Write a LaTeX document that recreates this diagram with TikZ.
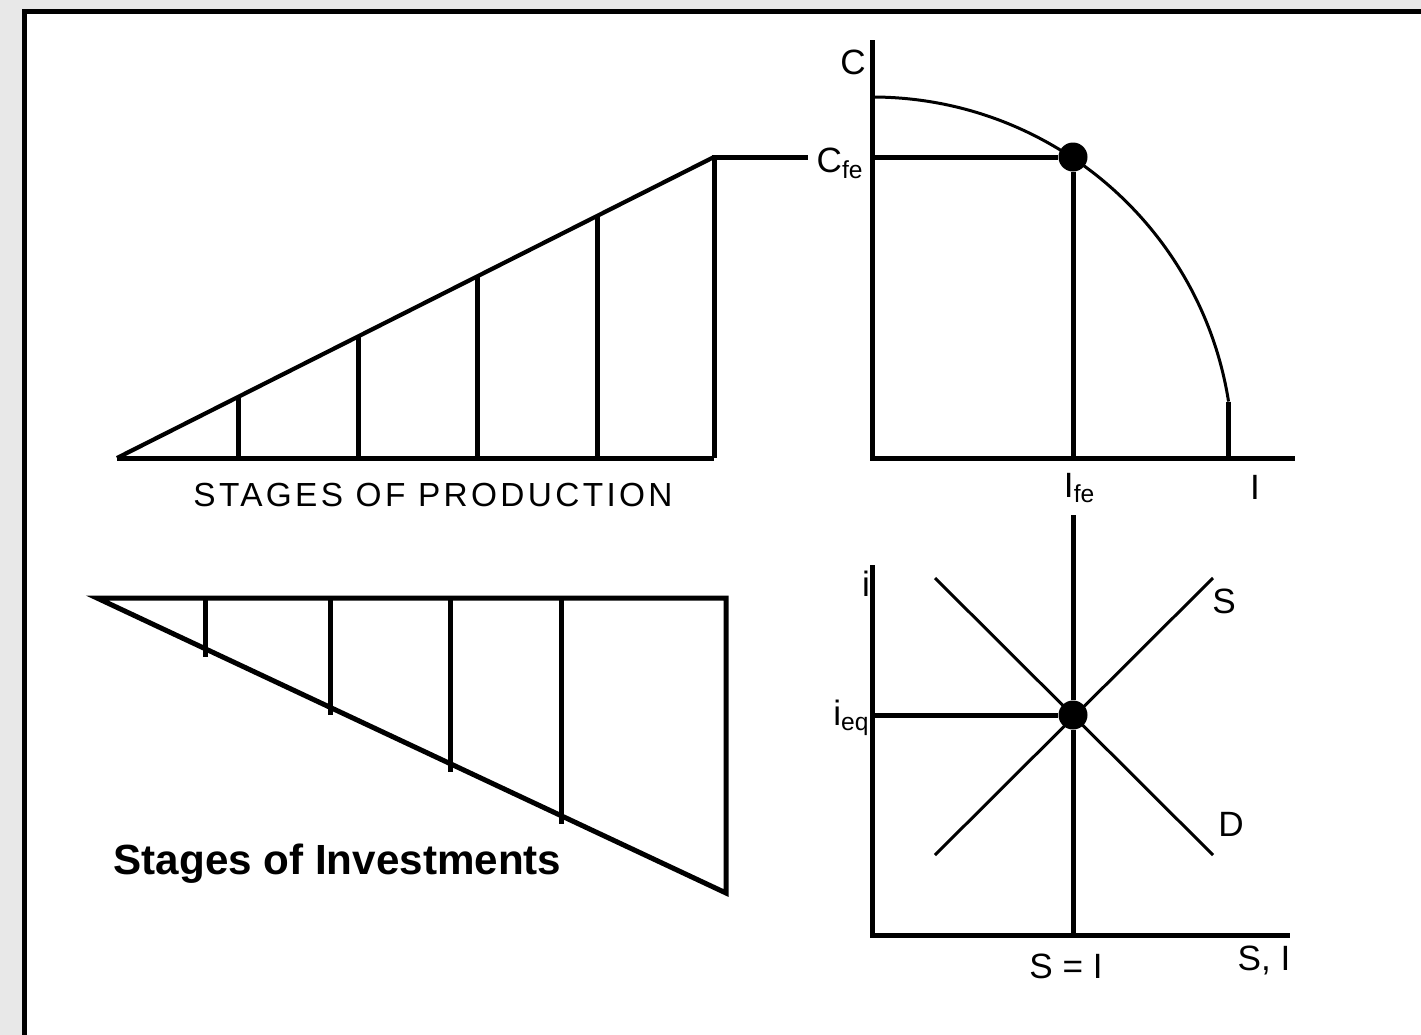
\documentclass[tikz,border=0pt]{standalone}
\usepackage{fontspec}
\setmainfont{Liberation Sans}
\newfontfamily\spacedfont[LetterSpace=10]{Liberation Sans}
\usetikzlibrary{calc}

\begin{document}
\begin{tikzpicture}[x=0.1mm,y=-0.1mm,
    axis/.style={line width=0.5mm},
    slope/.style={line width=0.42mm},
    curve/.style={line width=0.3mm},
    lbl/.style={font=\fontsize{10}{12}\selectfont,inner sep=0pt},
    dot/.style={circle,fill=black,inner sep=0pt,minimum size=2.9mm},
  ]
  % frame
  \fill[gray!18] (0,0) rectangle (1421,1035);
  \fill[black] (22,9) rectangle (1421,1035);
  \fill[white] (27,14) rectangle (1421,1035);

  % stages of production
  \coordinate (p0) at (117,458);
  \coordinate (p5) at (714,458);
  \coordinate (ptop) at (714,157);
  \coordinate (pend) at (808,157);
  \draw[axis] (p0) -- (p5);
  \draw[slope] (p0) -- (ptop);
  \foreach \x in {238,358,477,597}
    \draw[axis] (\x,458) -- (\x,{458-(\x-117)/597*301});
  \draw[axis] (p5) -- (ptop) -- (pend);
  \node[lbl,font=\spacedfont\fontsize{9.5}{11}\selectfont] (prod) at (433,495) {STAGES OF PRODUCTION};

  % production possibilities
  \coordinate (o1) at (872,458);
  \coordinate (cmax) at (872,97);
  \draw[axis] (872,40) -- (o1) -- (1295,458);
  \node[lbl] (caxis) at (853,62) {C};
  \node[lbl] (iaxis) at (1255,487) {I};
  \draw[curve] (cmax) arc[start angle=-90,end angle=-9,radius=361] coordinate (cend);
  \draw[axis] (cend) -- (cend |- o1);
  \node[dot] (fe) at (1073,157) {};
  \node[lbl,anchor=west] (cfe) at (816,163) {C\textsubscript{fe}};
  \node[lbl] (ife) at (1080,488) {I\textsubscript{fe}};
  \draw[axis] (fe -| o1) -- (fe);
  \draw[axis] (fe) -- (fe |- o1);

  % loanable funds
  \coordinate (o2) at (872,935);
  \draw[axis] (872,565) -- (o2) -- (1290,935);
  \node[dot] (eq) at (1073,715) {};
  \coordinate (eqtop) at (1073,515);
  \draw[axis] (eqtop) -- (eq) -- (eq |- o2);
  \draw[axis] (eq -| o2) -- (eq);
  \coordinate (d0) at (935,578);
  \coordinate (d1) at (1213,855);
  \coordinate (s0) at (935,855);
  \coordinate (s1) at (1213,578);
  \draw[curve] (d0) -- (d1);
  \draw[curve] (s0) -- (s1);
  \node[lbl] (slbl) at (1224,601) {S};
  \node[lbl] (dlbl) at (1231,824) {D};
  \node[lbl] (iint) at (866,584) {i};
  \node[lbl,anchor=east] (ieq) at (871,718) {i\textsubscript{eq}};
  \node[lbl] (sei) at (1066,966) {S = I};
  \node[lbl] (sci) at (1264,960) {S, I};

  % stages of investments
  \coordinate (q0) at (97,598);
  \coordinate (q1) at (726,598);
  \coordinate (q2) at (726,893);
  \draw[axis] (q0) -- (q1) -- (q2) -- cycle;
  \foreach \x in {205,330,450,561}
    \draw[axis] (\x,598) -- (\x,{598+(\x-97)/629*295+8});
  \node[anchor=west,inner sep=0pt,font=\bfseries\fontsize{12}{14}\selectfont] (inv) at (113,864) {Stages of Investments};
\end{tikzpicture}
\end{document}
